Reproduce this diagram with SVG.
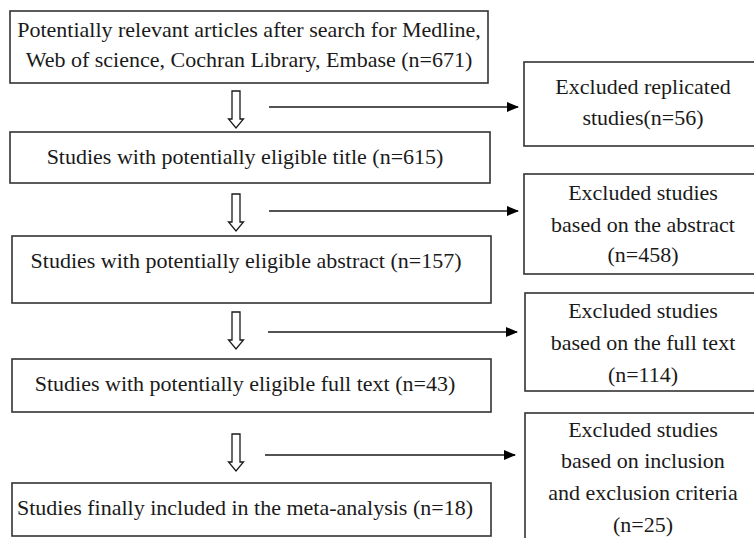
<svg xmlns="http://www.w3.org/2000/svg" width="754" height="538" viewBox="0 0 754 538">
<style>
.box{fill:#fff;stroke:#333;stroke-width:1.6}
.t{font-family:'Liberation Serif', serif !important;font-size:22px;fill:#1a1a1a;text-anchor:middle}
.ln{stroke:#1a1a1a;stroke-width:1.5;fill:none}
.ha{fill:#fff;stroke:#1a1a1a;stroke-width:1.3}
</style>
<defs>
<marker id="ah" markerWidth="12" markerHeight="10" refX="11" refY="5" orient="auto" markerUnits="userSpaceOnUse">
<path d="M0,0 L12,5 L0,10 Z" fill="#000"/>
</marker>
<path id="hollow" d="M-4,0 H4 V28 H7.5 L0,37 L-7.5,28 H-4 Z"/>
</defs>
<rect width="754" height="538" fill="#fff"/>
<g id="n1"><rect class="box" x="10" y="11" width="478" height="72"/>
<text class="t" style="font-family:'Liberation Serif',serif" x="249" y="37">Potentially relevant articles after search for Medline,</text>
<text class="t" style="font-family:'Liberation Serif',serif" x="249" y="67">Web of science, Cochran Library, Embase (n=671)</text></g>
<g id="n2"><rect class="box" x="10" y="132" width="480" height="51"/>
<text class="t" style="font-family:'Liberation Serif',serif" x="245" y="164">Studies with potentially eligible title (n=615)</text></g>
<g id="n3"><rect class="box" x="12" y="236" width="479" height="67"/>
<text class="t" style="font-family:'Liberation Serif',serif" x="246" y="268">Studies with potentially eligible abstract (n=157)</text></g>
<g id="n4"><rect class="box" x="12" y="359" width="479" height="53"/>
<text class="t" style="font-family:'Liberation Serif',serif" x="245" y="391">Studies with potentially eligible full text (n=43)</text></g>
<g id="n5"><rect class="box" x="12" y="483" width="479" height="53"/>
<text class="t" style="font-family:'Liberation Serif',serif" x="245" y="515">Studies finally included in the meta-analysis (n=18)</text></g>
<g id="r1"><rect class="box" x="524" y="62" width="240" height="84"/>
<text class="t" style="font-family:'Liberation Serif',serif" x="643" y="94">Excluded replicated</text>
<text class="t" style="font-family:'Liberation Serif',serif" x="643" y="125">studies(n=56)</text></g>
<g id="r2"><rect class="box" x="524" y="174" width="240" height="100"/>
<text class="t" style="font-family:'Liberation Serif',serif" x="643" y="200">Excluded studies</text>
<text class="t" style="font-family:'Liberation Serif',serif" x="643" y="232">based on the abstract</text>
<text class="t" style="font-family:'Liberation Serif',serif" x="643" y="262">(n=458)</text></g>
<g id="r3"><rect class="box" x="525" y="293" width="240" height="98"/>
<text class="t" style="font-family:'Liberation Serif',serif" x="643" y="318">Excluded studies</text>
<text class="t" style="font-family:'Liberation Serif',serif" x="643" y="350">based on the full text</text>
<text class="t" style="font-family:'Liberation Serif',serif" x="643" y="382">(n=114)</text></g>
<g id="r4"><rect class="box" x="525" y="413" width="240" height="140"/>
<text class="t" style="font-family:'Liberation Serif',serif" x="643" y="437">Excluded studies</text>
<text class="t" style="font-family:'Liberation Serif',serif" x="643" y="468">based on inclusion</text>
<text class="t" style="font-family:'Liberation Serif',serif" x="643" y="500">and exclusion criteria</text>
<text class="t" style="font-family:'Liberation Serif',serif" x="643" y="532">(n=25)</text></g>
<g id="connectors">
<use href="#hollow" class="ha" transform="translate(236,91)"/>
<use href="#hollow" class="ha" transform="translate(236,194)"/>
<use href="#hollow" class="ha" transform="translate(236,312)"/>
<use href="#hollow" class="ha" transform="translate(236,434)"/>
<line class="ln" x1="269" y1="107" x2="518" y2="107" marker-end="url(#ah)"/>
<line class="ln" x1="269" y1="211" x2="518" y2="211" marker-end="url(#ah)"/>
<line class="ln" x1="268" y1="332" x2="517" y2="332" marker-end="url(#ah)"/>
<line class="ln" x1="265" y1="455" x2="515" y2="455" marker-end="url(#ah)"/>
</g>
</svg>
